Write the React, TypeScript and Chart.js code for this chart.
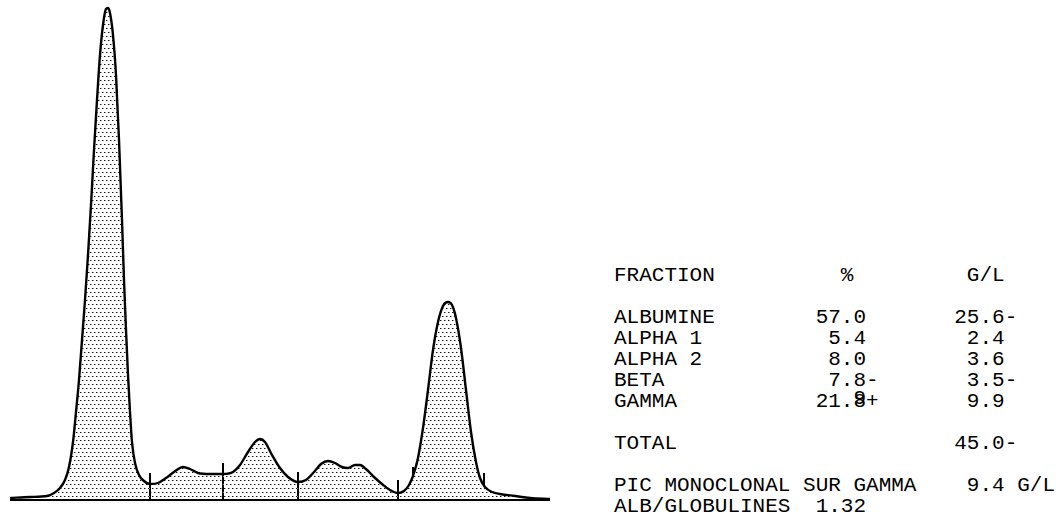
import React, { useEffect, useRef } from "react";
import { Chart, registerables } from "chart.js";

Chart.register(...registerables);

// Densitometry trace: migration position (arbitrary units) and optical density (arbitrary units)
const positions = [
  10, 30, 47, 54, 60, 65, 69, 73, 76, 79, 82, 85, 88, 91, 94, 97, 100, 103, 106, 108,
  110, 113, 116, 119, 122, 124, 126, 128, 130, 132, 135, 139, 144, 150, 158, 166, 174,
  183, 190, 198, 210, 223, 233, 240, 248, 255, 260, 265, 272, 280, 288, 298, 306, 314,
  321, 328, 335, 342, 348, 355, 360, 366, 374, 382, 390, 398, 404, 409, 413, 418, 423,
  428, 433, 438, 443, 448, 452, 456, 461, 466, 471, 476, 480, 485, 492, 500, 515, 530, 550,
];
const density = [
  2, 3, 4, 7, 12, 20, 33, 58, 88, 120, 160, 200, 245, 295, 350, 400, 445, 475, 491, 492,
  487, 465, 425, 360, 280, 220, 170, 125, 88, 58, 37, 25, 19, 16, 17, 22, 28,
  33, 31, 27, 26, 26, 28, 35, 48, 58, 61, 58, 45, 32, 23, 18, 20, 28,
  36, 39, 37, 33, 32, 35, 35, 31, 23, 16, 10, 7, 9, 15, 24, 42, 72,
  110, 150, 178, 194, 198, 195, 182, 152, 110, 68, 38, 22, 13, 8, 6, 4, 2, 1,
];

// Fraction boundaries (position, height of the divider mark)
const boundaryPositions = [150, 223, 298, 398];
const boundaryTops = [27, 37, 28, 20];
// Monoclonal peak limits (position, low, high)
const peakMarkPositions = [413, 484];
const peakMarkLows = [23, 14];
const peakMarkHighs = [33, 27];

const baselineStart = 10;
const baselineEnd = 550;

// Results table
const fractionNames = ["ALBUMINE", "ALPHA 1", "ALPHA 2", "BETA", "GAMMA"];
const fractionPercents = ["57.0", "5.4", "8.0", "7.8-", "21.8+"];
const fractionGL = ["25.6-", "2.4", "3.6", "3.5-", "9.9"];
const totalGL = "45.0-";
const monoclonalGL = "9.4 G/L";
const albGlobRatio = "1.32";

function makeDotPattern(): CanvasPattern | string {
  const c = document.createElement("canvas");
  c.width = 4;
  c.height = 8;
  const g = c.getContext("2d");
  if (!g) return "#ddd";
  g.fillStyle = "#111";
  g.fillRect(0, 0, 1, 1);
  g.fillRect(2, 4, 1, 1);
  g.fillStyle = "#9a9a9a";
  g.fillRect(1, 0, 1, 1);
  g.fillRect(3, 4, 1, 1);
  const p = g.createPattern(c, "repeat");
  return p || "#ddd";
}

function Trace() {
  const ref = useRef<HTMLCanvasElement | null>(null);
  useEffect(() => {
    if (!ref.current) return;
    const pattern = makeDotPattern();
    const curve = positions.map((x, i) => ({ x, y: density[i] }));
    const datasets: any[] = [
      {
        data: curve,
        borderColor: "#000",
        borderWidth: 2.4,
        backgroundColor: pattern,
        fill: "origin",
        pointRadius: 0,
        cubicInterpolationMode: "monotone",
      },
      {
        data: [
          { x: baselineStart, y: 0 },
          { x: baselineEnd, y: 0 },
        ],
        borderColor: "#000",
        borderWidth: 2,
        pointRadius: 0,
        fill: false,
      },
    ];
    boundaryPositions.forEach((x, i) => {
      datasets.push({
        data: [
          { x, y: 0 },
          { x, y: boundaryTops[i] },
        ],
        borderColor: "#000",
        borderWidth: 2,
        pointRadius: 0,
        fill: false,
      });
    });
    peakMarkPositions.forEach((x, i) => {
      datasets.push({
        data: [
          { x, y: peakMarkLows[i] },
          { x, y: peakMarkHighs[i] },
        ],
        borderColor: "#000",
        borderWidth: 2,
        pointRadius: 0,
        fill: false,
      });
    });
    const chart = new Chart(ref.current, {
      type: "line",
      data: { datasets },
      options: {
        animation: false,
        responsive: false,
        maintainAspectRatio: false,
        layout: { padding: 0, autoPadding: false } as any,
        plugins: { legend: { display: false }, tooltip: { enabled: false } },
        scales: {
          x: { type: "linear", min: 0, max: 560, display: false },
          y: { type: "linear", min: -19, max: 500, display: false },
        },
      },
    });
    return () => chart.destroy();
  }, []);
  return <canvas ref={ref} width={560} height={519} style={{ width: 560, height: 519, display: "block" }} />;
}

const COL = 12.6;
const LEFT = 614;
const FONT = "'Liberation Mono', 'DejaVu Sans Mono', monospace";

function Line({ top, text }: { top: number; text: string }) {
  return (
    <div
      style={{
        position: "absolute",
        left: LEFT,
        top,
        whiteSpace: "pre",
        fontFamily: FONT,
        fontSize: 21,
        lineHeight: "21px",
        color: "#000",
      }}
    >
      {text}
    </div>
  );
}

function pad(s: string, col: number) {
  return s.length >= col ? s + " " : s + " ".repeat(col - s.length);
}

export default function App() {
  const rowTops = [307, 328, 349, 370, 391];
  const gammaIdx = 4;
  return (
    <div style={{ position: "absolute", left: 0, top: 0, width: 1060, height: 519, background: "#fff", overflow: "hidden" }}>
      <div style={{ position: "absolute", left: 0, top: 0 }}>
        <Trace />
      </div>
      <Line top={265} text={pad("FRACTION", 18) + pad("%", 10) + "G/L"} />
      {fractionNames.map((n, i) => {
        const pct = fractionPercents[i];
        const pctCol = 18 - pct.indexOf(".");
        const gl = fractionGL[i];
        const glCol = 29 - gl.indexOf(".");
        const line = pad(pad(n, pctCol) + pct, glCol) + gl;
        return <Line key={n} top={rowTops[i]} text={line} />;
      })}
      {/* overprinted digit on the gamma percentage */}
      <div
        style={{
          position: "absolute",
          left: LEFT + 19 * COL,
          top: rowTops[gammaIdx] - 3,
          fontFamily: FONT,
          fontSize: 21,
          lineHeight: "21px",
          color: "#000",
        }}
      >
        9
      </div>
      <Line top={433} text={pad("TOTAL", 27) + totalGL} />
      <Line top={475} text={pad("PIC MONOCLONAL SUR GAMMA", 28) + monoclonalGL} />
      <Line top={496} text={pad("ALB/GLOBULINES", 16) + albGlobRatio} />
    </div>
  );
}
